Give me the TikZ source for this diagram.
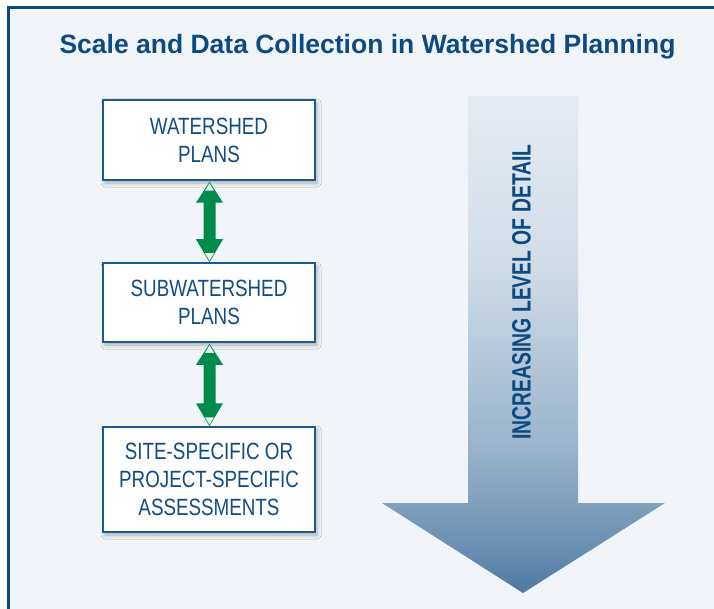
\documentclass[tikz,border=0pt]{standalone}
\usepackage{fontspec}
\usetikzlibrary{calc,shadows.blur}
\newfontfamily\titlefont{Liberation Sans Bold}
\newfontfamily\boxfont[FakeStretch=0.8]{Liberation Sans}
\newfontfamily\vertfont[FakeStretch=0.73]{Liberation Sans Bold}
\definecolor{bgc}{HTML}{F1F5F9}
\definecolor{framec}{HTML}{0B4A80}
\definecolor{titlec}{HTML}{0D4A82}
\definecolor{boxline}{HTML}{1D5A8F}
\definecolor{boxtext}{HTML}{124C84}
\definecolor{greenc}{HTML}{008A4C}
\definecolor{paletip}{HTML}{E6F2EC}
\definecolor{sc1}{HTML}{E5EBF2}
\definecolor{sc2}{HTML}{D2DDE8}
\definecolor{sc3}{HTML}{9CB5CB}
\definecolor{sc4}{HTML}{7FA0BE}
\definecolor{sc5}{HTML}{6289AF}
\definecolor{sc6}{HTML}{4E79A2}
\pgfdeclareverticalshading{bigarrowshade}{100bp}{color(0bp)=(sc6); color(25bp)=(sc6); color(28.3bp)=(sc5); color(34bp)=(sc4); color(40.4bp)=(sc3); color(58.5bp)=(sc2); color(75bp)=(sc1); color(100bp)=(sc1)}
\tikzset{
  levelbox/.style={draw=boxline, line width=1.5pt, fill=white, minimum width=212pt,
    align=center, inner sep=0pt, text=boxtext,
    font=\boxfont\fontsize{23.5pt}{28pt}\selectfont,
    blur shadow={shadow xshift=2pt, shadow yshift=-3pt, shadow blur radius=4pt,
      shadow opacity=30}},
}
\newcommand\greenlink[2]{%
  \fill[greenc] ($(#1.south)+(0.5,1)$) -- ($(#1.south)+(14,22)$) -- ($(#1.south)+(6.5,22)$)
    -- ($(#2.north)+(6.5,-23)$) -- ($(#2.north)+(14,-23)$) -- ($(#2.north)+(0.5,0)$)
    -- ($(#2.north)+(-13,-23)$) -- ($(#2.north)+(-5.5,-23)$) -- ($(#1.south)+(-5.5,22)$)
    -- ($(#1.south)+(-13,22)$) -- cycle;
  \fill[paletip] ($(#1.south)+(0.5,2.5)$) -- ($(#1.south)+(5,10)$) -- ($(#1.south)+(-4,10)$) -- cycle;
  \fill[paletip] ($(#2.north)+(0.5,-1.5)$) -- ($(#2.north)+(5,-9)$) -- ($(#2.north)+(-4,-9)$) -- cycle;
}
\begin{document}
\begin{tikzpicture}[x=1pt,y=-1pt]
\useasboundingbox (0,0) rectangle (714,609);
\clip (0,0) rectangle (714,609);
\fill[white] (0,0) rectangle (714,609);
\fill[bgc] (8.5,7.5) rectangle (740,640);
\draw[framec, line width=3pt] (8.5,7.5) rectangle (740,640);
% title
\node[anchor=base, text=titlec, font=\titlefont\fontsize{26.5pt}{30pt}\selectfont, inner sep=0pt]
  (title) at (367.5,54) {Scale and Data Collection in Watershed Planning};
% boxes
\node[levelbox, minimum height=80pt] (b1) at (209,140) {WATERSHED\\PLANS};
\node[levelbox, minimum height=79pt] (b2) at (209,302.5) {SUBWATERSHED\\PLANS};
\node[levelbox, minimum height=105pt] (b3) at (209,479.5) {SITE-SPECIFIC OR\\PROJECT-SPECIFIC\\ASSESSMENTS};
% green double arrows
\greenlink{b1}{b2}
\greenlink{b2}{b3}
% big arrow
\shade[shading=bigarrowshade] (468,96) -- (578,96) -- (578,503) -- (665,503) -- (523,593)
  -- (382,503) -- (468,503) -- cycle;
\node[rotate=90, text=titlec, font=\vertfont\fontsize{26.5pt}{30pt}\selectfont, inner sep=0pt]
  (detail) at (521.5,292) {INCREASING LEVEL OF DETAIL};
\end{tikzpicture}
\end{document}
